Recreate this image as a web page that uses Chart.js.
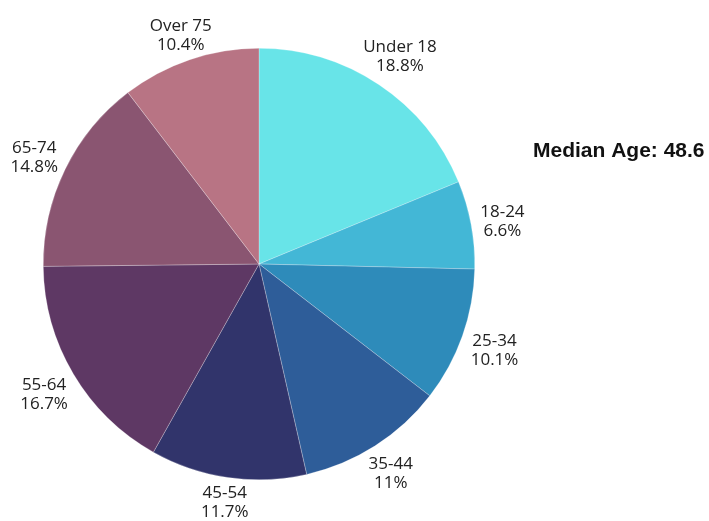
<!DOCTYPE html>
<html>
<head>
<meta charset="utf-8">
<script src="https://cdn.jsdelivr.net/npm/chart.js@4"></script>
<style>
  html, body { margin: 0; padding: 0; background: #fff; }
  #wrap { width: 709px; height: 521px; position: relative; }
</style>
</head>
<body>
<div id="wrap"><canvas id="chart"></canvas></div>
<script>
// age groups and their share of the population (%)
const ageGroups = ["Under 18", "18-24", "25-34", "35-44", "45-54", "55-64", "65-74", "Over 75"]
const shares = [18.8, 6.6, 10.1, 11, 11.7, 16.7, 14.8, 10.4]
const medianAge = 48.6

const sliceColors = ["#68e4e8", "#43b7d6", "#2e8bba", "#2e5d99", "#31346b", "#5e3864", "#8a5571", "#b87484"]

// labels outside each slice, two lines: name and percent
const outsideLabels = {
  id: "outsideLabels",
  afterDatasetsDraw(chart) {
    const ctx = chart.ctx
    const meta = chart.getDatasetMeta(0)
    ctx.save()
    ctx.font = "17px 'Open Sans'"
    ctx.fillStyle = "#222"
    ctx.textAlign = "center"
    ctx.textBaseline = "middle"
    meta.data.forEach((arc, i) => {
      const p = arc.getProps(["x", "y", "startAngle", "endAngle", "outerRadius"], true)
      const mid = (p.startAngle + p.endAngle) / 2
      const line1 = ageGroups[i]
      const line2 = shares[i] + "%"
      const hw = Math.max(ctx.measureText(line1).width, ctx.measureText(line2).width) / 2
      const cx = Math.cos(mid)
      const cy = Math.sin(mid)
      // push the text box out so it clears the rim
      const r = p.outerRadius + 8 + hw * Math.abs(cx) + 11 * Math.abs(cy)
      const x = p.x + cx * r
      const y = p.y + cy * r + 3
      ctx.fillText(line1, x, y - 9.5)
      ctx.fillText(line2, x, y + 9.5)
    })
    ctx.restore()
  },
}

// side note with the median age
const medianNote = {
  id: "medianNote",
  afterDraw(chart) {
    const ctx = chart.ctx
    ctx.save()
    ctx.font = "bold 21px 'Liberation Sans'"
    ctx.fillStyle = "#111"
    ctx.textAlign = "left"
    ctx.textBaseline = "middle"
    ctx.fillText("Median Age: " + medianAge, 533, 151)
    ctx.restore()
  },
}

new Chart(document.getElementById("chart"), {
  type: "pie",
  data: {
    labels: ageGroups,
    datasets: [
      {
        data: shares,
        backgroundColor: sliceColors,
        borderColor: "rgba(255,255,255,0.5)",
        borderWidth: 0.5,
      },
    ],
  },
  options: {
    responsive: true,
    maintainAspectRatio: false,
    animation: false,
    layout: { padding: { left: 43, right: 234, top: 48, bottom: 41 } },
    plugins: {
      legend: { display: false },
      tooltip: { enabled: false },
    },
  },
  plugins: [outsideLabels, medianNote],
})
</script>
</body>
</html>
